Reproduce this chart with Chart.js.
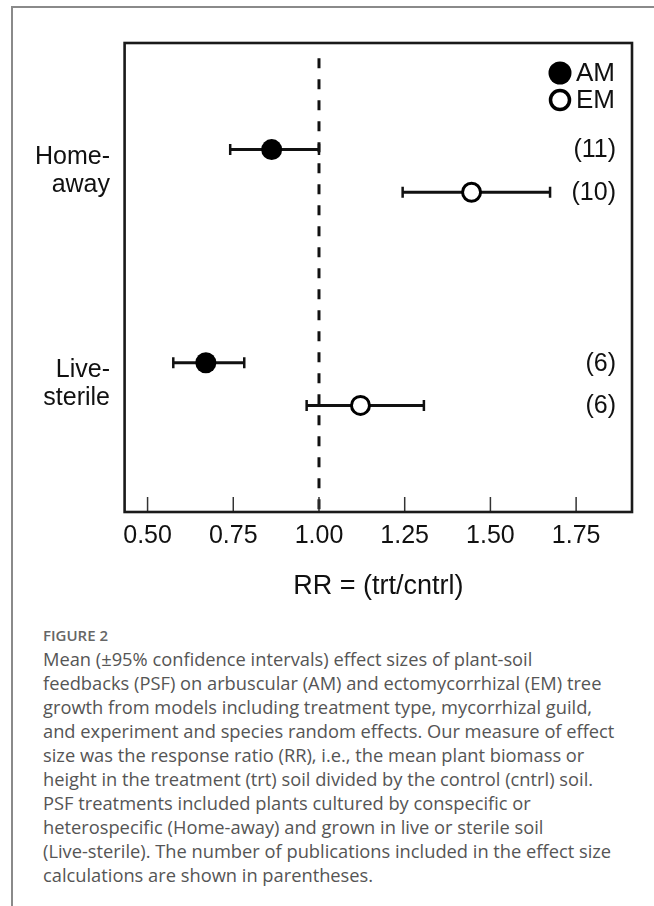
<!DOCTYPE html>
<html><head><meta charset="utf-8">
<script src="https://cdn.jsdelivr.net/npm/chart.js@4/dist/chart.umd.min.js"></script>
<style>
html,body{margin:0;padding:0;background:#fff;}
body{width:654px;height:906px;position:relative;overflow:hidden;}
#frame{position:absolute;left:11px;top:6px;width:700px;height:950px;border-left:2px solid #8a8a8a;border-top:2px solid #8a8a8a;}
#wrap{position:absolute;left:0;top:0;width:654px;height:620px;}
#cap{position:absolute;left:43px;top:623px;font-family:"Open Sans",sans-serif;color:#555;}
#fig{font-size:15px;font-weight:600;color:#666;line-height:24px;height:24px;}
.l{font-size:18.3px;line-height:24px;white-space:nowrap;letter-spacing:0;}
</style></head><body>
<div id="frame"></div>
<div id="wrap"><canvas id="c" width="654" height="620"></canvas></div>
<div id="cap">
<div id="fig">FIGURE 2</div>
<div class="l">Mean (±95% confidence intervals) effect sizes of plant-soil</div>
<div class="l">feedbacks (PSF) on arbuscular (AM) and ectomycorrhizal (EM) tree</div>
<div class="l">growth from models including treatment type, mycorrhizal guild,</div>
<div class="l">and experiment and species random effects. Our measure of effect</div>
<div class="l">size was the response ratio (RR), i.e., the mean plant biomass or</div>
<div class="l">height in the treatment (trt) soil divided by the control (cntrl) soil.</div>
<div class="l">PSF treatments included plants cultured by conspecific or</div>
<div class="l">heterospecific (Home-away) and grown in live or sterile soil</div>
<div class="l">(Live-sterile). The number of publications included in the effect size</div>
<div class="l">calculations are shown in parentheses.</div>
</div>
<script>
// ---- data ----
const groupLabels = [['Home-', 'away'], ['Live-', 'sterile']];
const groupPos = [3.75, 1.25];
const guilds = ['AM', 'EM'];
const amRow = [4, 1.5];
const emRow = [3.5, 1];
const amMean = [0.862, 0.670];
const amLower = [0.741, 0.575];
const amUpper = [1.000, 0.782];
const emMean = [1.445, 1.121];
const emLower = [1.244, 0.964];
const emUpper = [1.674, 1.306];
const amN = [11, 6];
const emN = [10, 6];
const xTicks = [0.50, 0.75, 1.00, 1.25, 1.50, 1.75];
const refValue = 1.0;
const refTop = 5.07;
const xMin = 0.433, xMax = 1.913, yMin = -0.25, yMax = 5.25;
const xTitle = 'RR = (trt/cntrl)';

const FONT = '"Liberation Sans", Arial, sans-serif';
const INK = '#111';

const datasets = [];
// markers
datasets.push({
  type: 'scatter', label: 'AM', order: 0,
  data: amMean.map((m, i) => ({x: m, y: amRow[i]})),
  pointStyle: 'circle', pointRadius: 10.5, backgroundColor: '#000', borderColor: '#000', borderWidth: 0
});
datasets.push({
  type: 'scatter', label: 'EM', order: 0,
  data: emMean.map((m, i) => ({x: m, y: emRow[i]})),
  pointStyle: 'circle', pointRadius: 9, backgroundColor: '#fff', borderColor: '#000', borderWidth: 3
});
// CIs
function ci(lo, hi, y) {
  return {
    type: 'line', order: 1, data: [{x: lo, y: y}, {x: hi, y: y}],
    borderColor: INK, borderWidth: 3, pointStyle: 'line', pointRotation: 90,
    pointRadius: 5.5, pointBorderWidth: 2.5, pointBorderColor: INK, fill: false
  };
}
amMean.forEach((m, i) => datasets.push(ci(amLower[i], amUpper[i], amRow[i])));
emMean.forEach((m, i) => datasets.push(ci(emLower[i], emUpper[i], emRow[i])));
// reference line
datasets.push({
  type: 'line', order: 2, data: [{x: refValue, y: refTop}, {x: refValue, y: yMin}],
  borderColor: INK, borderWidth: 3, borderDash: [10, 11], pointRadius: 0, fill: false
});

const decor = {
  id: 'decor',
  afterDatasetsDraw(chart) {
    const {ctx, chartArea: a, scales: {x, y}} = chart;
    ctx.save();
    // inward ticks
    ctx.strokeStyle = '#333'; ctx.lineWidth = 1.5;
    xTicks.forEach(v => {
      const px = x.getPixelForValue(v);
      ctx.beginPath(); ctx.moveTo(px, a.bottom); ctx.lineTo(px, a.bottom - 15); ctx.stroke();
    });
    // box
    ctx.strokeStyle = '#1a1a1a'; ctx.lineWidth = 2.6;
    ctx.strokeRect(a.left, a.top, a.right - a.left, a.bottom - a.top);
    // counts
    ctx.fillStyle = INK; ctx.font = '25px ' + FONT;
    ctx.textAlign = 'right'; ctx.textBaseline = 'middle';
    amN.forEach((n, i) => ctx.fillText('(' + n + ')', a.right - 16, y.getPixelForValue(amRow[i]) + 1));
    emN.forEach((n, i) => ctx.fillText('(' + n + ')', a.right - 16, y.getPixelForValue(emRow[i]) + 1));
    // legend
    const lx = a.right - 72;
    const ly = [a.top + 30, a.top + 57];
    ctx.beginPath(); ctx.arc(lx, ly[0], 11.5, 0, Math.PI * 2); ctx.fillStyle = '#000'; ctx.fill();
    ctx.beginPath(); ctx.arc(lx, ly[1], 9.5, 0, Math.PI * 2); ctx.fillStyle = '#fff'; ctx.fill();
    ctx.lineWidth = 3.5; ctx.strokeStyle = '#000'; ctx.stroke();
    ctx.fillStyle = INK; ctx.font = '26px ' + FONT; ctx.textAlign = 'left';
    guilds.forEach((g, i) => ctx.fillText(g, a.right - 56, ly[i] + 1));
    ctx.restore();
  }
};

new Chart(document.getElementById('c'), {
  data: {datasets},
  options: {
    responsive: false, animation: false, devicePixelRatio: 1, events: [],
    layout: {padding: {left: 0, right: 22, top: 43, bottom: 0}},
    plugins: {legend: {display: false}, tooltip: {enabled: false}},
    scales: {
      x: {
        type: 'linear', position: 'bottom', min: xMin, max: xMax,
        afterBuildTicks: s => { s.ticks = xTicks.map(v => ({value: v})); },
        afterFit: s => { s.height = 108; },
        grid: {display: false, drawTicks: false}, border: {display: false},
        ticks: {font: {family: FONT, size: 25}, color: INK, padding: 8.7, maxRotation: 0, autoSkip: false,
          callback: v => Number(v).toFixed(2)},
        title: {display: true, text: xTitle, font: {family: FONT, size: 27}, color: INK, padding: {top: 0, bottom: 17.2}}
      },
      y: {
        type: 'linear', position: 'left', min: yMin, max: yMax,
        afterBuildTicks: s => { s.ticks = groupPos.map(v => ({value: v})); },
        afterFit: s => { s.width = 124.6; },
        grid: {display: false, drawTicks: false}, border: {display: false},
        ticks: {font: {family: FONT, size: 25, lineHeight: 1.12}, color: INK, padding: 14.6, autoSkip: false,
          callback: v => { const i = groupPos.indexOf(v); return i >= 0 ? groupLabels[i] : ''; }}
      }
    }
  },
  plugins: [decor]
});
</script>
</body></html>
